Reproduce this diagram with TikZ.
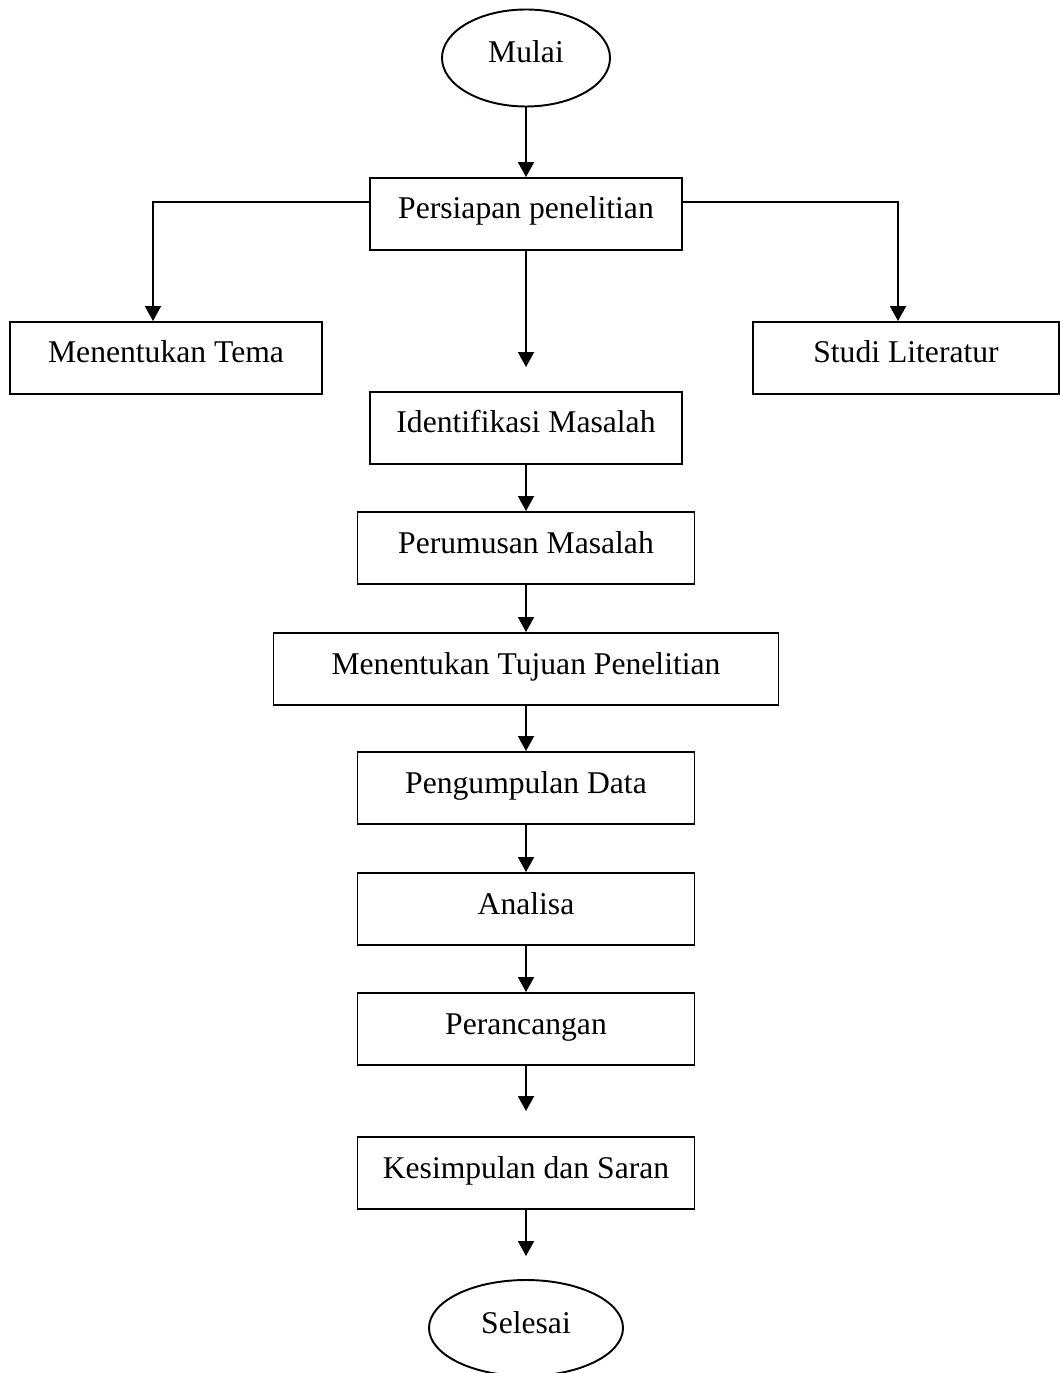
\documentclass[tikz,border=0pt]{standalone}
\usepackage{fontspec}
\setmainfont{Liberation Serif}
\usetikzlibrary{arrows.meta,shapes.geometric}
\tikzset{
	procbox/.style={draw, line width=1.1pt, rectangle, inner sep=0pt, minimum height=1.44cm, text height=0.45cm, text depth=0.25cm, font=\fontsize{18}{22}\selectfont},
	termoval/.style={draw, line width=1.1pt, ellipse, inner sep=0pt, text height=0.45cm, text depth=0.25cm, font=\fontsize{18}{22}\selectfont},
	flowarr/.style={line width=1.1pt, -{Triangle[length=0.3cm,width=0.32cm]}}
}

\begin{document}
\begin{tikzpicture}
			%%%%% START %%%%%
			
			\useasboundingbox (0, 0) rectangle (21.2, -27.46);
			
			\node[termoval, minimum width=3.36cm, minimum height=1.94cm] (mulai) at (10.52, -1.16) {Mulai};
			
			\node[procbox, minimum width=6.24cm] (persiapan) at (10.52, -4.28) {Persiapan penelitian};
			\node[procbox, minimum width=6.24cm] (tema) at (3.32, -7.16) {Menentukan Tema};
			\node[procbox, minimum width=6.12cm] (studi) at (18.12, -7.16) {Studi Literatur};
			
			\node[procbox, minimum width=6.24cm] (identifikasi) at (10.52, -8.56) {Identifikasi Masalah};
			\node[procbox, minimum width=6.74cm] (perumusan) at (10.52, -10.96) {Perumusan Masalah};
			\node[procbox, minimum width=10.1cm] (tujuan) at (10.52, -13.38) {Menentukan Tujuan Penelitian};
			\node[procbox, minimum width=6.74cm] (pengumpulan) at (10.52, -15.76) {Pengumpulan Data};
			\node[procbox, minimum width=6.74cm] (analisa) at (10.52, -18.18) {Analisa};
			\node[procbox, minimum width=6.74cm] (perancangan) at (10.52, -20.58) {Perancangan};
			\node[procbox, minimum width=6.74cm] (kesimpulan) at (10.52, -23.46) {Kesimpulan dan Saran};
			
			\node[termoval, minimum width=3.88cm, minimum height=1.92cm] (selesai) at (10.52, -26.56) {Selesai};
			
			\draw[flowarr] (mulai) -- (persiapan);
			\draw[flowarr] ([yshift=0.24cm]persiapan.west) -| ([xshift=-0.26cm]tema.north);
			\draw[flowarr] ([yshift=0.24cm]persiapan.east) -| ([xshift=-0.16cm]studi.north);
			\draw[flowarr] (persiapan.south) -- ([yshift=0.48cm]identifikasi.north);
			
			\draw[flowarr] (identifikasi) -- (perumusan);
			\draw[flowarr] (perumusan) -- (tujuan);
			\draw[flowarr] (tujuan) -- (pengumpulan);
			\draw[flowarr] (pengumpulan) -- (analisa);
			\draw[flowarr] (analisa) -- (perancangan);
			\draw[flowarr] (perancangan.south) -- ([yshift=0.5cm]kesimpulan.north);
			\draw[flowarr] (kesimpulan.south) -- ([yshift=0.46cm]selesai.north);
			
			%%%%% END %%%%%
\end{tikzpicture}
\end{document}
